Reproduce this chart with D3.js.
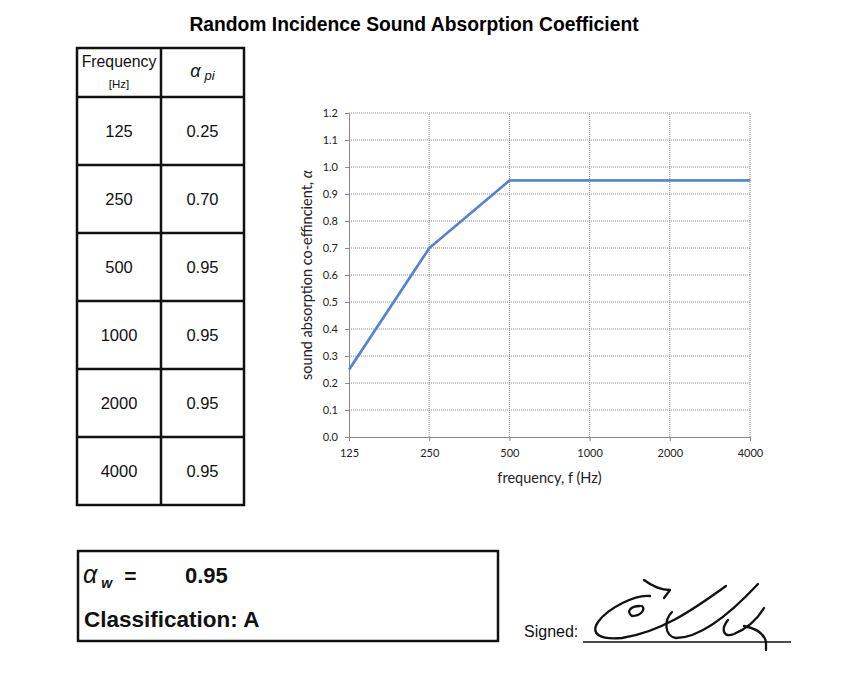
<!DOCTYPE html>
<html><head><meta charset="utf-8">
<script src="https://cdn.jsdelivr.net/npm/d3@7"></script>
<style>body{margin:0;background:#fff}svg{display:block}</style>
</head><body>
<script>
const frequencies = ["125","250","500","1000","2000","4000"];
const alphaValues = [0.25,0.70,0.95,0.95,0.95,0.95];
const alphaLabels = ["0.25","0.70","0.95","0.95","0.95","0.95"];
const yTicks = [0,0.1,0.2,0.3,0.4,0.5,0.6,0.7,0.8,0.9,1.0,1.1,1.2];
const alphaW = "0.95";
const classification = "A";

const W=865,H=684;
const svg=d3.select("body").append("svg").attr("width",W).attr("height",H);

svg.append("text").attr("x",414).attr("y",31).attr("text-anchor","middle")
  .attr("font-family","Liberation Sans, Arial").attr("font-weight","bold").attr("font-size",19.3)
  .text("Random Incidence Sound Absorption Coefficient");

// Table
const tX0=77,tX1=161,tX2=244,tY0=48,tYh=97,rowH=68;
const tg=svg.append("g").attr("font-family","Liberation Sans, Arial").attr("fill","#111");
const tBottom=tYh+rowH*frequencies.length;
tg.append("rect").attr("x",tX0).attr("y",tY0).attr("width",tX2-tX0).attr("height",tBottom-tY0)
  .attr("fill","none").attr("stroke","#111").attr("stroke-width",2.5);
tg.append("line").attr("x1",tX1).attr("x2",tX1).attr("y1",tY0).attr("y2",tBottom).attr("stroke","#111").attr("stroke-width",2.5);
tg.append("line").attr("x1",tX0).attr("x2",tX2).attr("y1",tYh).attr("y2",tYh).attr("stroke","#111").attr("stroke-width",2.5);
tg.append("text").attr("x",(tX0+tX1)/2).attr("y",67).attr("text-anchor","middle").attr("font-size",15.8).text("Frequency");
tg.append("text").attr("x",(tX0+tX1)/2).attr("y",88).attr("text-anchor","middle").attr("font-size",11.5).text("[Hz]");
const ah=tg.append("text").attr("x",(tX1+tX2)/2).attr("y",77).attr("text-anchor","middle").attr("font-style","italic");
ah.append("tspan").attr("font-size",18).text("α");
ah.append("tspan").attr("font-size",13).attr("dx",4).attr("dy",3).text("pi");
frequencies.forEach((f,i)=>{
  const yTop=tYh+rowH*i;
  if(i>0) tg.append("line").attr("x1",tX0).attr("x2",tX2).attr("y1",yTop).attr("y2",yTop).attr("stroke","#111").attr("stroke-width",2.5);
  tg.append("text").attr("x",(tX0+tX1)/2).attr("y",yTop+rowH/2+5.5).attr("text-anchor","middle").attr("font-size",16.5).text(f);
  tg.append("text").attr("x",(tX1+tX2)/2).attr("y",yTop+rowH/2+5.5).attr("text-anchor","middle").attr("font-size",16.5).text(alphaLabels[i]);
});

// Chart
const px0=349,px1=750,py0=437,py1=113;
const x=d3.scalePoint().domain(frequencies).range([px0,px1]).padding(0);
const y=d3.scaleLinear().domain([0,1.2]).range([py0,py1]);
const cg=svg.append("g").attr("font-family","Lato, Carlito, sans-serif");
cg.selectAll(".hg").data(yTicks.slice(1)).join("line")
  .attr("x1",px0).attr("x2",px1).attr("y1",d=>y(d)).attr("y2",d=>y(d))
  .attr("stroke","#8a8a8a").attr("stroke-width",1).attr("stroke-dasharray","1,1");
cg.selectAll(".vg").data(frequencies.slice(1)).join("line")
  .attr("x1",d=>x(d)).attr("x2",d=>x(d)).attr("y1",py0).attr("y2",py1)
  .attr("stroke","#8a8a8a").attr("stroke-width",1).attr("stroke-dasharray","1,1");
const yAxis=d3.axisLeft(y).tickValues(yTicks).tickFormat(d3.format(".1f")).tickSize(4);
const ya=cg.append("g").attr("transform",`translate(${px0},0)`).call(yAxis);
ya.select(".domain").attr("stroke","#888");
ya.selectAll(".tick line").attr("stroke","#888");
ya.selectAll("text").attr("font-size",11).attr("fill","#222").attr("font-family","Lato, sans-serif").attr("x",-11);
const xAxis=d3.axisBottom(x).tickSize(4);
const xa=cg.append("g").attr("transform",`translate(0,${py0})`).call(xAxis);
xa.select(".domain").attr("stroke","#888");
xa.selectAll(".tick line").attr("stroke","#888");
xa.selectAll("text").attr("font-size",11).attr("fill","#222").attr("font-family","Lato, sans-serif").attr("dy","1.2em");
cg.append("text").attr("x",(px0+px1)/2).attr("y",483).attr("text-anchor","middle").attr("font-size",14.5).attr("fill","#222").text("frequency, f (Hz)");
const yt=cg.append("text").attr("transform",`translate(312,${(py0+py1)/2}) rotate(-90)`).attr("text-anchor","middle").attr("font-size",14.5).attr("fill","#222");
yt.append("tspan").text("sound absorption co-effincient, ");
yt.append("tspan").attr("font-style","italic").text("α");
const data=frequencies.map((f,i)=>({f,v:alphaValues[i]}));
const line=d3.line().x(d=>x(d.f)).y(d=>y(d.v));
cg.append("path").datum(data).attr("d",line).attr("fill","none").attr("stroke","#e07fb0").attr("stroke-width",1.8).attr("transform","translate(0.9,-0.3)");
cg.append("path").datum(data).attr("d",line).attr("fill","none").attr("stroke","#4a86d8").attr("stroke-width",2.4);

// bottom box
const bg=svg.append("g").attr("font-family","Liberation Sans, Arial").attr("fill","#111");
bg.append("rect").attr("x",78).attr("y",551).attr("width",420).attr("height",90).attr("fill","none").attr("stroke","#111").attr("stroke-width",2.5);
const aw=bg.append("text").attr("x",83).attr("y",583).attr("font-weight","bold");
aw.append("tspan").attr("font-style","italic").attr("font-weight","normal").attr("font-size",25).text("α");
aw.append("tspan").attr("font-style","italic").attr("font-size",14).attr("dx",4).attr("dy",5).text("w");
aw.append("tspan").attr("font-size",21).attr("dx",12).attr("dy",-5).text("=");
bg.append("text").attr("x",185).attr("y",583).attr("font-weight","bold").attr("font-size",22).text(alphaW);
bg.append("text").attr("x",84).attr("y",627).attr("font-weight","bold").attr("font-size",22.5).text("Classification: "+classification);

// signed
svg.append("text").attr("x",524).attr("y",637).attr("font-family","Liberation Sans, Arial").attr("font-size",16).attr("fill","#111").text("Signed:");
svg.append("line").attr("x1",583).attr("x2",791).attr("y1",642).attr("y2",642).attr("stroke","#111").attr("stroke-width",1.5);
const sig=svg.append("g").attr("fill","none").attr("stroke","#111").attr("stroke-width",2.3).attr("stroke-linecap","round").attr("stroke-linejoin","round");
sig.append("path").attr("d","M650,596 C636,594 608,608 598,622 C590,634 600,640 622,638 C660,632 690,612 726,586");
sig.append("path").attr("d","M640,606 C630,606 626,612 632,616 C640,616 646,610 642,606");
sig.append("path").attr("d","M644,580 C652,586 660,590 670,590 L664,598");
sig.append("path").attr("d","M672,612 C664,620 664,636 676,638 C700,638 730,614 758,584");
sig.append("path").attr("d","M728,620 C720,630 724,638 734,634 C748,628 758,618 764,608 M744,626 C754,628 764,632 766,642 L766,650");
</script>
</body></html>
